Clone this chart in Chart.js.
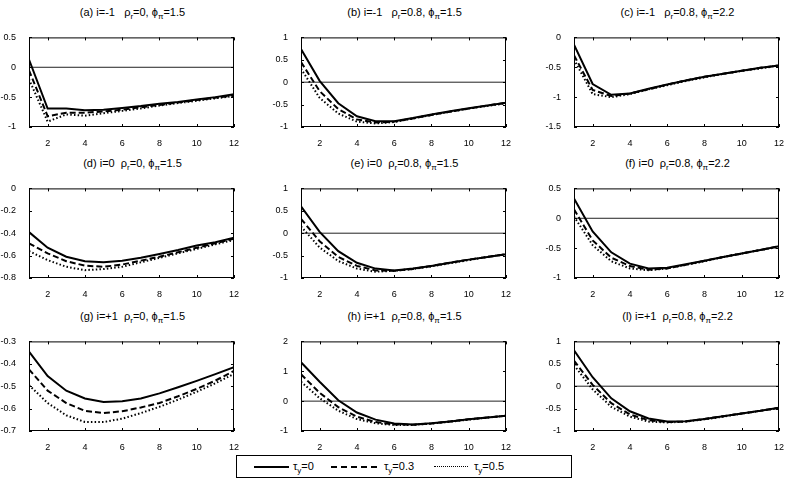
<!DOCTYPE html>
<html>
<head>
<meta charset="utf-8">
<script src="https://cdn.jsdelivr.net/npm/chart.js@4.4.1/dist/chart.umd.min.js"></script>
<style>
  html, body { margin: 0; padding: 0; background: #fff; overflow: hidden; }
  body { width: 785px; height: 482px; position: relative; font-family: "Liberation Sans", Arial, sans-serif; }
  canvas { position: absolute; }
  .ttl { position: absolute; width: 207px; text-align: center; font-size: 11px; line-height: 12px; color: #000; white-space: pre; }
  .ttl sub, .lg sub { font-size: 8px; vertical-align: -3px; line-height: 0; }
  .legend { position: absolute; left: 236px; top: 455px; width: 336px; height: 23px; border: 1px solid #000; box-sizing: border-box; font-size: 11px; }
  .lg { position: absolute; top: 4px; line-height: 12px; }
  .smp { position: absolute; top: 10px; height: 0; border-top: 2px solid #000; }
</style>
</head>
<body>
<script>
// horizon (quarters) and axis ticks
const steps = [1, 2, 3, 4, 5, 6, 7, 8, 9, 10, 11, 12];
const xTicks = [2, 4, 6, 8, 10, 12];

// panel titles
const titles = [
  '(a) i=-1   ρ<sub>r</sub>=0, ϕ<sub>π</sub>=1.5',
  '(b) i=-1   ρ<sub>r</sub>=0.8, ϕ<sub>π</sub>=1.5',
  '(c) i=-1   ρ<sub>r</sub>=0.8, ϕ<sub>π</sub>=2.2',
  '(d) i=0  ρ<sub>r</sub>=0, ϕ<sub>π</sub>=1.5',
  '(e) i=0  ρ<sub>r</sub>=0.8, ϕ<sub>π</sub>=1.5',
  '(f) i=0  ρ<sub>r</sub>=0.8, ϕ<sub>π</sub>=2.2',
  '(g) i=+1  ρ<sub>r</sub>=0, ϕ<sub>π</sub>=1.5',
  '(h) i=+1  ρ<sub>r</sub>=0.8, ϕ<sub>π</sub>=1.5',
  '(l) i=+1  ρ<sub>r</sub>=0.8, ϕ<sub>π</sub>=2.2'
];

// y ticks per panel
const yTicksA = [0.5, 0, -0.5, -1];
const yTicksB = [1, 0.5, 0, -0.5, -1];
const yTicksC = [0, -0.5, -1, -1.5];
const yTicksD = [0, -0.2, -0.4, -0.6, -0.8];
const yTicksE = [1, 0.5, 0, -0.5, -1];
const yTicksF = [0.5, 0, -0.5, -1];
const yTicksG = [-0.3, -0.4, -0.5, -0.6, -0.7];
const yTicksH = [2, 1, 0, -1];
const yTicksL = [1, 0.5, 0, -0.5, -1];

// tau_y = 0 (solid), 0.3 (dashed), 0.5 (dotted)
const solidA  = [0.13, -0.69, -0.69, -0.72, -0.71, -0.68, -0.65, -0.61, -0.58, -0.54, -0.50, -0.45];
const dashedA = [-0.05, -0.82, -0.76, -0.76, -0.74, -0.71, -0.67, -0.63, -0.59, -0.55, -0.51, -0.47];
const dottedA = [-0.20, -0.91, -0.79, -0.81, -0.77, -0.73, -0.69, -0.64, -0.60, -0.56, -0.52, -0.48];

const solidB  = [0.74, 0.03, -0.47, -0.76, -0.87, -0.87, -0.80, -0.72, -0.65, -0.58, -0.52, -0.46];
const dashedB = [0.45, -0.20, -0.60, -0.83, -0.90, -0.88, -0.81, -0.73, -0.66, -0.59, -0.52, -0.46];
const dottedB = [0.30, -0.35, -0.70, -0.88, -0.92, -0.89, -0.81, -0.73, -0.66, -0.59, -0.53, -0.47];

const solidC  = [-0.12, -0.78, -0.96, -0.94, -0.86, -0.79, -0.72, -0.66, -0.61, -0.56, -0.51, -0.47];
const dashedC = [-0.30, -0.88, -0.98, -0.94, -0.87, -0.79, -0.72, -0.66, -0.61, -0.56, -0.51, -0.47];
const dottedC = [-0.37, -0.95, -1.00, -0.95, -0.87, -0.80, -0.73, -0.67, -0.61, -0.56, -0.52, -0.47];

const solidD  = [-0.39, -0.53, -0.61, -0.65, -0.66, -0.645, -0.62, -0.585, -0.55, -0.51, -0.48, -0.44];
const dashedD = [-0.49, -0.58, -0.65, -0.69, -0.70, -0.68, -0.645, -0.61, -0.57, -0.53, -0.49, -0.45];
const dottedD = [-0.56, -0.64, -0.70, -0.73, -0.72, -0.70, -0.66, -0.62, -0.58, -0.54, -0.50, -0.46];

const solidE  = [0.60, 0.03, -0.40, -0.66, -0.79, -0.83, -0.79, -0.73, -0.66, -0.59, -0.53, -0.47];
const dashedE = [0.32, -0.18, -0.53, -0.73, -0.83, -0.84, -0.80, -0.73, -0.66, -0.59, -0.53, -0.47];
const dottedE = [0.15, -0.32, -0.62, -0.79, -0.86, -0.84, -0.80, -0.74, -0.67, -0.60, -0.53, -0.47];

const solidF  = [0.33, -0.22, -0.57, -0.76, -0.84, -0.83, -0.77, -0.71, -0.65, -0.59, -0.53, -0.47];
const dashedF = [0.15, -0.37, -0.66, -0.80, -0.86, -0.84, -0.78, -0.71, -0.65, -0.59, -0.53, -0.47];
const dottedF = [0.03, -0.45, -0.72, -0.84, -0.87, -0.84, -0.78, -0.72, -0.65, -0.59, -0.53, -0.48];

const solidG  = [-0.345, -0.455, -0.52, -0.555, -0.57, -0.567, -0.555, -0.532, -0.505, -0.476, -0.446, -0.415];
const dashedG = [-0.425, -0.52, -0.575, -0.61, -0.62, -0.612, -0.595, -0.575, -0.545, -0.512, -0.475, -0.432];
const dottedG = [-0.495, -0.575, -0.63, -0.66, -0.66, -0.645, -0.62, -0.592, -0.56, -0.525, -0.487, -0.445];

const solidH  = [1.30, 0.65, 0.03, -0.38, -0.62, -0.75, -0.78, -0.74, -0.68, -0.61, -0.55, -0.49];
const dashedH = [0.90, 0.28, -0.20, -0.52, -0.70, -0.78, -0.79, -0.75, -0.68, -0.61, -0.55, -0.49];
const dottedH = [0.65, 0.10, -0.32, -0.60, -0.74, -0.80, -0.80, -0.75, -0.69, -0.62, -0.55, -0.49];

const solidL  = [0.80, 0.20, -0.27, -0.56, -0.72, -0.79, -0.78, -0.73, -0.67, -0.61, -0.55, -0.48];
const dashedL = [0.57, 0.03, -0.38, -0.63, -0.76, -0.80, -0.79, -0.73, -0.67, -0.61, -0.55, -0.48];
const dottedL = [0.47, -0.07, -0.46, -0.68, -0.79, -0.81, -0.79, -0.74, -0.68, -0.61, -0.55, -0.49];

const panels = [
  [solidA, dashedA, dottedA, yTicksA], [solidB, dashedB, dottedB, yTicksB], [solidC, dashedC, dottedC, yTicksC],
  [solidD, dashedD, dottedD, yTicksD], [solidE, dashedE, dottedE, yTicksE], [solidF, dashedF, dottedF, yTicksF],
  [solidG, dashedG, dottedG, yTicksG], [solidH, dashedH, dottedH, yTicksH], [solidL, dashedL, dottedL, yTicksL]
];

// plot area placement
const colLeft = [29, 301, 574];
const rowTop = [33, 184, 337];
const plotW = 207, plotH = 94;
const padL = 36, padT = 6, padR = 6, padB = 20;

// box + inward tick marks, matlab style
const framePlugin = {
  id: 'frame',
  afterDraw(chart) {
    const { ctx, chartArea: a, scales: { x, y } } = chart;
    ctx.save();
    ctx.strokeStyle = '#000';
    ctx.lineWidth = 1;
    ctx.strokeRect(a.left + 0.5, a.top + 0.5, a.width - 1, a.height - 1);
    ctx.beginPath();
    x.ticks.forEach(t => {
      const px = Math.round(x.getPixelForValue(t.value)) + 0.5;
      ctx.moveTo(px, a.bottom); ctx.lineTo(px, a.bottom - 3);
      ctx.moveTo(px, a.top); ctx.lineTo(px, a.top + 3);
    });
    y.ticks.forEach(t => {
      const py = Math.round(y.getPixelForValue(t.value)) + 0.5;
      ctx.moveTo(a.left, py); ctx.lineTo(a.left + 3, py);
      ctx.moveTo(a.right, py); ctx.lineTo(a.right - 3, py);
    });
    ctx.stroke();
    ctx.restore();
  }
};

function pts(arr) {
  return arr.map((v, i) => ({ x: steps[i], y: v }));
}

panels.forEach((p, k) => {
  const [solid, dashed, dotted, yTicks] = p;
  const L = colLeft[k % 3], T = rowTop[Math.floor(k / 3)];

  const t = document.createElement('div');
  t.className = 'ttl';
  t.style.left = L + 'px';
  t.style.top = (T - 27) + 'px';
  t.innerHTML = titles[k];
  document.body.appendChild(t);

  const cv = document.createElement('canvas');
  cv.width = padL + plotW + padR;
  cv.height = padT + plotH + padB;
  cv.style.left = (L - padL) + 'px';
  cv.style.top = (T - padT) + 'px';
  document.body.appendChild(cv);

  const yMax = Math.max(...yTicks), yMin = Math.min(...yTicks);
  const datasets = [
    { data: pts(solid), borderColor: '#000', borderWidth: 2 },
    { data: pts(dashed), borderColor: '#000', borderWidth: 2, borderDash: [6, 3] },
    { data: pts(dotted), borderColor: '#000', borderWidth: 2, borderDash: [1.5, 2.2] }
  ];
  if (yMin < 0 && yMax > 0) {
    datasets.push({ data: [{ x: 1, y: 0 }, { x: 12, y: 0 }], borderColor: '#222', borderWidth: 1 });
  }

  new Chart(cv, {
    type: 'line',
    data: { datasets: datasets },
    options: {
      responsive: false,
      animation: false,
      devicePixelRatio: 1,
      layout: { padding: { top: padT, right: padR, left: 0, bottom: 0 } },
      elements: { point: { radius: 0 }, line: { tension: 0 } },
      plugins: { legend: { display: false }, tooltip: { enabled: false } },
      scales: {
        x: {
          type: 'linear', min: 1, max: 12,
          grid: { display: false },
          border: { display: false },
          afterBuildTicks: s => { s.ticks = xTicks.map(v => ({ value: v })); },
          afterFit: s => { s.height = padB; },
          ticks: { padding: 3, color: '#000', font: { family: 'Liberation Sans', size: 9 }, maxRotation: 0, callback: v => String(v) }
        },
        y: {
          min: yMin, max: yMax,
          grid: { display: false },
          border: { display: false },
          afterBuildTicks: s => { s.ticks = yTicks.map(v => ({ value: v })); },
          afterFit: s => { s.width = padL; },
          ticks: { padding: 5, color: '#000', font: { family: 'Liberation Sans', size: 9 }, callback: v => String(v) }
        }
      }
    },
    plugins: [framePlugin]
  });
});
</script>
<div class="legend">
  <span class="smp" style="left:17px; width:35px;"></span>
  <span class="lg" style="left:56px;">τ<sub>y</sub>=0</span>
  <span class="smp" style="left:94px; width:46px; border-top-style:dashed;"></span>
  <span class="lg" style="left:147px;">τ<sub>y</sub>=0.3</span>
  <span class="smp" style="left:197px; width:34px; border-top:1.5px dotted #000;"></span>
  <span class="lg" style="left:237px;">τ<sub>y</sub>=0.5</span>
</div>
</body>
</html>
